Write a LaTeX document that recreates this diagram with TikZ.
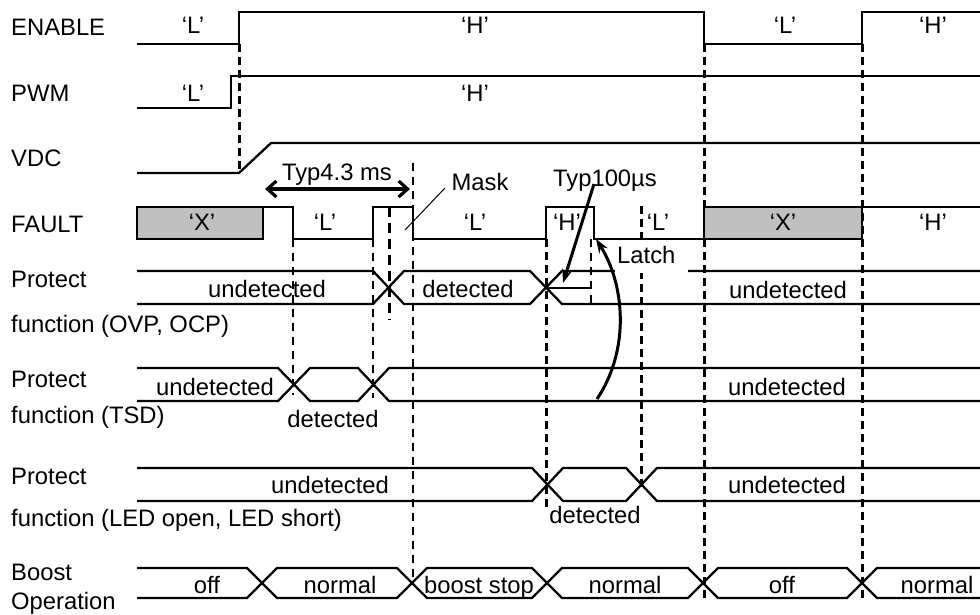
\documentclass[tikz,border=0pt]{standalone}
\usepackage{fontspec}
\setmainfont{Liberation Sans}
\usetikzlibrary{arrows.meta}
\begin{document}
\begin{tikzpicture}[x=1pt,y=-1pt,
  sig/.style={line width=2.3pt, line join=miter},
  guide/.style={line width=3pt, dash pattern=on 8pt off 5pt},
  thinguide/.style={line width=2.4pt, dash pattern=on 8pt off 6pt},
  lbl/.style={anchor=base west, inner sep=0pt, font=\fontsize{23.8}{28}\selectfont},
  txt/.style={anchor=base, inner sep=0pt, font=\fontsize{23.8}{28}\selectfont},
  arr/.style={line width=3pt, -{Stealth[length=14pt,width=10pt]}},
  greybox/.style={sig, fill={rgb,255:red,192;green,192;blue,192}}]
\useasboundingbox (0,0) rectangle (980,615);

% guides (dashed)
\draw[guide] (239,44) -- (239,173);
\draw[thinguide] (293,239) -- (293,395);
\draw[thinguide] (373,239) -- (373,398);
\draw[line width=3pt, dash pattern=on 10pt off 6pt] (389,207) -- (389,320);
\draw[thinguide] (413,163) -- (413,580);
\draw[guide] (546,239) -- (546,507);
\draw[thinguide] (591,239) -- (591,304);
\draw[guide] (641,206) -- (641,488);
\draw[guide] (704,44) -- (704,598);
\draw[guide] (862,44) -- (862,598);

% ENABLE
\draw[sig] (137,44) -- (239,44) -- (239,12) -- (704,12) -- (704,44) -- (862,44) -- (862,12) -- (980,12);
% PWM
\draw[sig] (137,108) -- (231,108) -- (231,76) -- (980,76);
% VDC
\draw[sig] (137,173) -- (239,173) -- (271,143) -- (980,143);
% FAULT
\draw[greybox] (137,207) rectangle (263,239);
\draw[sig] (263,207) -- (293,207) -- (293,239) -- (373,239) -- (373,207) -- (413,207) -- (413,239) -- (546,239) -- (546,207) -- (594,207) -- (594,239) -- (704,239);
\draw[greybox] (704,207) rectangle (862,239);
\draw[sig] (862,207) -- (980,207);
% Protect OVP/OCP
\draw[sig] (137,271) -- (373,271) -- (404,304) -- (530,304) -- (562,271) -- (980,271);
\draw[sig] (137,304) -- (373,304) -- (404,271) -- (530,271) -- (562,304) -- (980,304);
\draw[sig] (546,288) -- (590,288);
% Protect TSD
\draw[sig] (137,368) -- (278,368) -- (310,401) -- (358,401) -- (389,368) -- (980,368);
\draw[sig] (137,401) -- (278,401) -- (310,368) -- (358,368) -- (389,401) -- (980,401);
% Protect LED
\draw[sig] (137,468) -- (532,468) -- (563,501) -- (626,501) -- (657,468) -- (980,468);
\draw[sig] (137,501) -- (532,501) -- (563,468) -- (626,468) -- (657,501) -- (980,501);
% Boost operation
\draw[sig] (137,568) -- (247,568) -- (277,598) -- (397,598) -- (427,568) -- (532,568) -- (562,598) -- (688,598) -- (718,568) -- (847,568) -- (877,598) -- (980,598);
\draw[sig] (137,598) -- (247,598) -- (277,568) -- (397,568) -- (427,598) -- (532,598) -- (562,568) -- (688,568) -- (718,598) -- (847,598) -- (877,568) -- (980,568);

% Latch box
\fill[white] (615,242) rectangle (688,272.5);
\node[txt, anchor=base west] (latch) at (617,263) {Latch};

% left labels
\node[lbl] (lenable) at (11,36) {ENABLE};
\node[lbl] (lpwm) at (11,102) {PWM};
\node[lbl] (lvdc) at (11,167) {VDC};
\node[lbl] (lfault) at (11,232) {FAULT};
\node[lbl] (lp1) at (11,287) {Protect};
\node[lbl] (lf1) at (11,332) {function (OVP, OCP)};
\node[lbl] (lp2) at (11,387) {Protect};
\node[lbl] (lf2) at (11,423) {function (TSD)};
\node[lbl] (lp3) at (11,484) {Protect};
\node[lbl] (lf3) at (11,526) {function (LED open, LED short)};
\node[lbl] (lb1) at (11,580) {Boost};
\node[lbl] (lb2) at (11,609) {Operation};

% signal texts
\node[txt] (enL1) at (193,34) {‘L’};
\node[txt] (enH1) at (475,34) {‘H’};
\node[txt] (enL2) at (785,34) {‘L’};
\node[txt] (enH2) at (933,34) {‘H’};
\node[txt] (pwL) at (193,102) {‘L’};
\node[txt] (pwH) at (475,102) {‘H’};
\node[txt] (fX1) at (202,230) {‘X’};
\node[txt] (fL1) at (325,230) {‘L’};
\node[txt] (fL2) at (475,230) {‘L’};
\node[txt] (fH1) at (567,230) {‘H’};
\node[txt] (fL3) at (658,230) {‘L’};
\node[txt] (fX2) at (783,230) {‘X’};
\node[txt] (fH2) at (933,230) {‘H’};

\node[txt] (typ43) at (337,180) {Typ4.3 ms};
\node[txt] (mask) at (480,190) {Mask};
\node[txt] (typ100) at (605,186) {Typ100µs};

\node[txt] (o1) at (267,297) {undetected};
\node[txt] (o2) at (468,297) {detected};
\node[txt] (o3) at (788,298) {undetected};
\node[txt] (t1) at (215,395) {undetected};
\node[txt] (t2) at (333,427) {detected};
\node[txt] (t3) at (787,395) {undetected};
\node[txt] (e1) at (330,493) {undetected};
\node[txt] (e2) at (595,523) {detected};
\node[txt] (e3) at (787,493) {undetected};
\node[txt] (b1) at (207,593) {off};
\node[txt] (b2) at (340,593) {normal};
\node[txt] (b3) at (479,593) {boost stop};
\node[txt] (b4) at (625,593) {normal};
\node[txt] (b5) at (782,593) {off};
\node[txt] (b6) at (937,593) {normal};

% annotations
\coordinate (t43a) at (265,189);
\coordinate (t43b) at (410,189);
\draw[line width=3.2pt, {Straight Barb[length=9pt,width=16pt]}-{Straight Barb[length=9pt,width=16pt]}] (t43a) -- (t43b);
\coordinate (maskfrom) at (445,188);
\coordinate (maskto) at (405,230);
\draw[line width=1pt] (maskfrom) -- (maskto);
\coordinate (tyfrom) at (594,184);
\coordinate (tyto) at (563,283);
\draw[arr] (tyfrom) -- (tyto);
\coordinate (lafrom) at (597,399);
\coordinate (lato) at (596,239);
\draw[arr] (lafrom) .. controls (630,350) and (625,285) .. (lato);
\end{tikzpicture}
\end{document}
